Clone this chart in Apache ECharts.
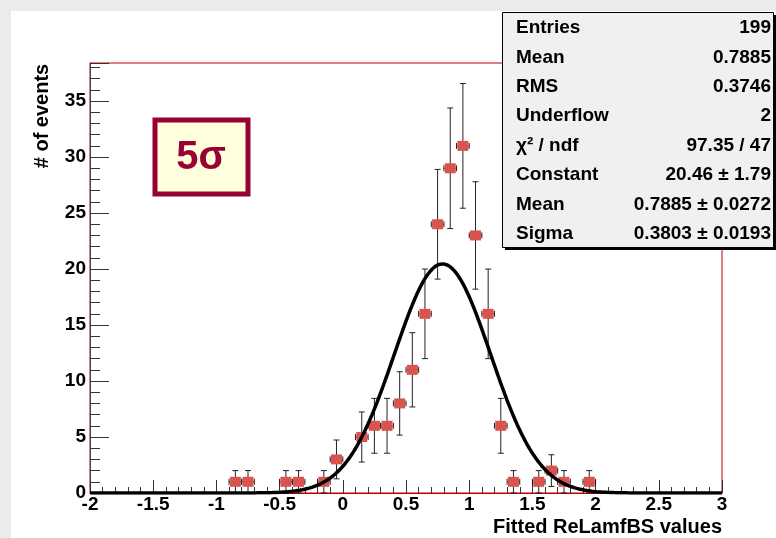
<!DOCTYPE html>
<html>
<head>
<meta charset="utf-8">
<script src="https://cdn.jsdelivr.net/npm/echarts@6/dist/echarts.min.js"></script>
<style>
  html, body { margin: 0; padding: 0; background: #ebebeb; }
  #main { width: 776px; height: 538px; }
</style>
</head>
<body>
<div id="main"></div>
<script>
// histogram bins (centres) and counts
var binCentres = [-0.85, -0.75, -0.45, -0.35, -0.15, -0.05, 0.15, 0.25, 0.35, 0.45, 0.55, 0.65,
                  0.75, 0.85, 0.95, 1.05, 1.15, 1.25, 1.35, 1.55, 1.65, 1.75, 1.95];
var binCounts  = [1, 1, 1, 1, 1, 3, 5, 6, 6, 8, 11, 16,
                  24, 29, 31, 23, 16, 6, 1, 1, 2, 1, 1];
var binHalfWidth = 0.05;

// gaussian fit parameters from the stats box
var fitConstant = 20.46;
var fitMean = 0.7885;
var fitSigma = 0.3803;

var xTicks = [-2, -1.5, -1, -0.5, 0, 0.5, 1, 1.5, 2, 2.5, 3];

var statLabels = ['Entries', 'Mean', 'RMS', 'Underflow', 'χ² / ndf', 'Constant', 'Mean', 'Sigma'];
var statValues = ['199', '0.7885', '0.3746', '2', '97.35 / 47', '20.46 ± 1.79', '0.7885 ± 0.0272', '0.3803 ± 0.0193'];

var FONT = '"Liberation Sans", Arial, sans-serif';

// 数据点和误差
var points = [];
var errData = [];
for (var i = 0; i < binCentres.length; i++) {
  points.push([binCentres[i], binCounts[i]]);
  errData.push([binCentres[i], binCounts[i], Math.sqrt(binCounts[i])]);
}

// fit curve sampled over the axis range
var curve = [];
for (var k = 0; k <= 500; k++) {
  var x = xTicks[0] + k * (xTicks[xTicks.length - 1] - xTicks[0]) / 500;
  var d = (x - fitMean) / fitSigma;
  curve.push([x, fitConstant * Math.exp(-0.5 * d * d)]);
}

var myChart = echarts.init(document.getElementById('main'));

// graphic: white pad, 5σ label, stats box, axis titles
var graphics = [
  { type: 'rect', shape: { x: 11, y: 11, width: 800, height: 600 }, style: { fill: '#ffffff' }, z: -10, silent: true },
  { type: 'rect', shape: { x: 155, y: 120, width: 93, height: 74 },
    style: { fill: '#ffffdd', stroke: '#990033', lineWidth: 5 }, z: 100 },
  { type: 'text', x: 201, y: 158, z: 101,
    style: { text: '5σ', fill: '#990033', font: 'bold 40px ' + FONT, align: 'center', verticalAlign: 'middle' } },
  { type: 'rect', shape: { x: 505, y: 15, width: 271, height: 235 }, style: { fill: '#000000' }, z: 100 },
  { type: 'rect', shape: { x: 502.5, y: 12.5, width: 271, height: 235 },
    style: { fill: '#f0f0f0', stroke: '#000000', lineWidth: 1 }, z: 101 },
  { type: 'text', x: 42, y: 116, rotation: Math.PI / 2, z: 100,
    style: { text: '# of events', fill: '#000', font: 'bold 20px ' + FONT, align: 'center', verticalAlign: 'middle' } },
  { type: 'text', x: 722, y: 527, z: 100,
    style: { text: 'Fitted ReLamfBS values', fill: '#000', font: 'bold 20px ' + FONT, align: 'right', verticalAlign: 'middle' } }
];
for (var j = 0; j < statLabels.length; j++) {
  graphics.push({ type: 'text', x: 516, y: 28 + j * 29.4, z: 102,
    style: { text: statLabels[j], fill: '#000', font: 'bold 19px ' + FONT, verticalAlign: 'middle' } });
  graphics.push({ type: 'text', x: 771, y: 28 + j * 29.4, z: 102,
    style: { text: statValues[j], fill: '#000', font: 'bold 19px ' + FONT, align: 'right', verticalAlign: 'middle' } });
}

var option = {
  backgroundColor: '#ebebeb',
  animation: false,
  grid: { left: 90, top: 63, width: 632, height: 430, show: true, borderColor: '#c00000', borderWidth: 1, backgroundColor: 'transparent' },
  xAxis: {
    type: 'value', min: -2, max: 3, interval: 0.5,
    axisLine: { onZero: false, lineStyle: { color: '#c00000', width: 1 } },
    axisTick: { inside: true, length: 13, lineStyle: { color: '#333' } },
    minorTick: { show: true, splitNumber: 5, length: 6, lineStyle: { color: '#333' } },
    splitLine: { show: false },
    axisLabel: { color: '#000', fontFamily: FONT, fontWeight: 'bold', fontSize: 19, margin: 2,
      formatter: function (v) { return String(v); } }
  },
  yAxis: {
    type: 'value', min: 0, max: 38.4, interval: 5,
    axisLine: { show: true, onZero: false, lineStyle: { color: '#444', width: 1 } },
    axisTick: { inside: true, length: 19, lineStyle: { color: '#333' } },
    minorTick: { show: true, splitNumber: 5, length: 10, lineStyle: { color: '#333' } },
    splitLine: { show: false },
    axisLabel: { color: '#000', fontFamily: FONT, fontWeight: 'bold', fontSize: 19, margin: 4,
      formatter: function (v) { return v % 5 === 0 ? String(v) : ''; } }
  },
  graphic: graphics,
  series: [
    {
      type: 'custom',
      data: errData,
      z: 2,
      renderItem: function (params, api) {
        var x = api.value(0), y = api.value(1), e = api.value(2);
        var top = api.coord([x, y + e]);
        var bot = api.coord([x, y - e]);
        var lft = api.coord([x - binHalfWidth, y]);
        var rgt = api.coord([x + binHalfWidth, y]);
        var st = { stroke: '#222', lineWidth: 1 };
        return {
          type: 'group',
          children: [
            { type: 'line', shape: { x1: top[0], y1: top[1], x2: bot[0], y2: bot[1] }, style: st },
            { type: 'line', shape: { x1: top[0] - 3, y1: top[1], x2: top[0] + 3, y2: top[1] }, style: st },
            { type: 'line', shape: { x1: bot[0] - 3, y1: bot[1], x2: bot[0] + 3, y2: bot[1] }, style: st },
            { type: 'line', shape: { x1: lft[0], y1: lft[1], x2: rgt[0], y2: rgt[1] }, style: st },
            { type: 'line', shape: { x1: lft[0], y1: lft[1] - 3, x2: lft[0], y2: lft[1] + 3 }, style: st },
            { type: 'line', shape: { x1: rgt[0], y1: rgt[1] - 3, x2: rgt[0], y2: rgt[1] + 3 }, style: st }
          ]
        };
      }
    },
    {
      type: 'scatter',
      data: points,
      symbol: 'rect',
      symbolSize: [11, 10],
      z: 3,
      itemStyle: { color: '#d9544f', opacity: 1 }
    },
    {
      type: 'line',
      data: curve,
      showSymbol: false,
      smooth: false,
      z: 4,
      lineStyle: { color: '#000', width: 3.5 }
    }
  ]
};

myChart.setOption(option);
</script>
</body>
</html>
